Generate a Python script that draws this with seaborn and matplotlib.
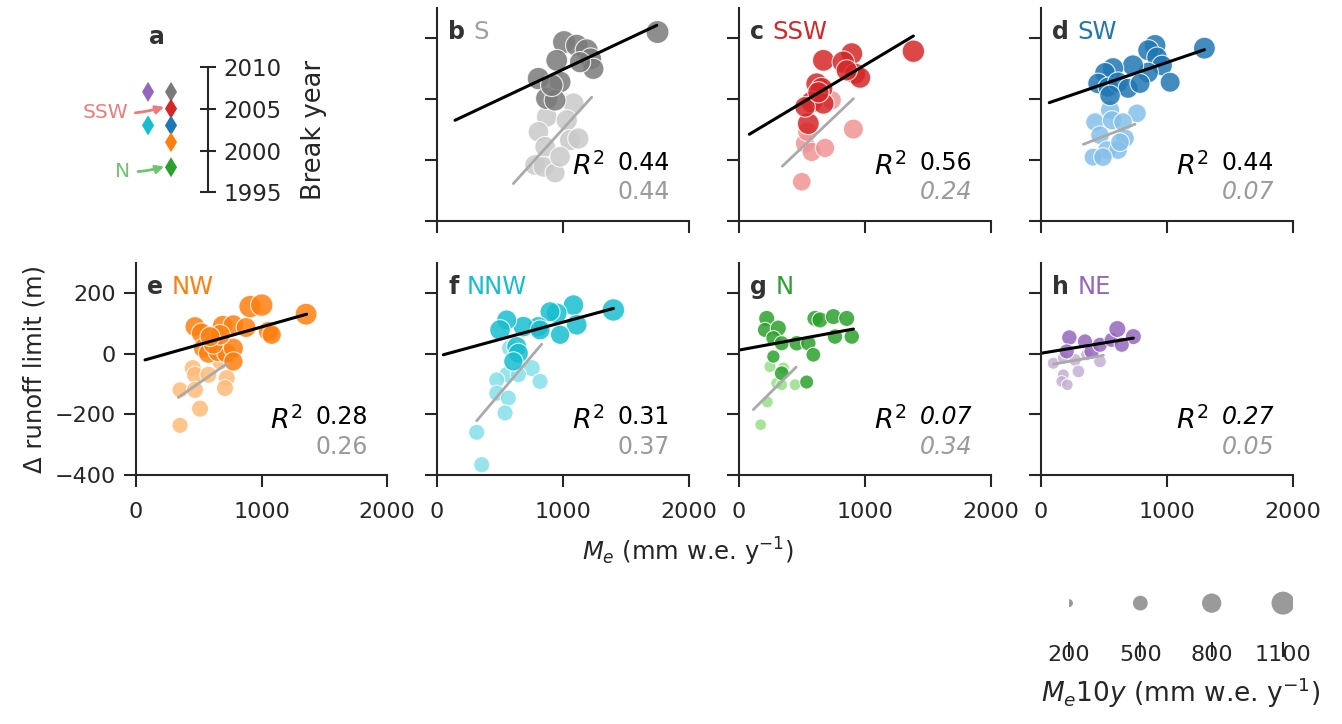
import numpy as np
import pandas as pd
import matplotlib.pyplot as plt
import seaborn as sns

# regiones y año de quiebre (panel a)
regions = ['S', 'SSW', 'SW', 'NW', 'NNW', 'N', 'NE']
letters = ['b', 'c', 'd', 'e', 'f', 'g', 'h']
break_year = [2007, 2005, 2003, 2001, 2003, 1998, 2007]
break_column = [1, 1, 1, 1, 0, 1, 0]

dark_colors = ['#7a7a7a', '#d62728', '#1f77b4', '#ff7f0e', '#17becf', '#2ca02c', '#9467bd']
light_colors = ['#c9c9c9', '#f09494', '#85c0ea', '#ffbb78', '#86e0ea', '#98df8a', '#c5b0d5']
title_colors = ['#a0a0a0', '#d62728', '#1f77b4', '#ff7f0e', '#17becf', '#2ca02c', '#9467bd']

# M_e (x), delta runoff limit (y) y M_e10y (tamaño); oscuro = después del quiebre
S_x_dark = [1750, 1008, 1109, 1188, 1220, 1241, 950, 805, 977, 871, 937, 1135, 911]
S_y_dark = [221, 188, 177, 161, 133, 100, 128, 68, 57, 3, -3, 122, 46]
S_m_dark = [1150, 1100, 1050, 1100, 1000, 950, 1000, 1050, 1000, 1050, 1000, 950, 1050]
S_x_light = [1083, 871, 1030, 805, 1056, 1122, 858, 778, 844, 937, 977]
S_y_light = [-14, -58, -69, -107, -134, -129, -156, -216, -222, -242, -189]
S_m_light = [950, 900, 950, 900, 950, 950, 900, 900, 900, 850, 900]

SSW_x_dark = [1384, 670, 895, 828, 921, 961, 855, 617, 656, 577, 670, 550, 524, 630]
SSW_y_dark = [158, 128, 150, 122, 84, 71, 95, 51, 35, -9, -14, -80, -25, 23]
SSW_m_dark = [1050, 1000, 1000, 1050, 950, 950, 950, 1000, 1050, 1000, 950, 1000, 900, 950]
SSW_x_light = [736, 908, 524, 577, 683, 498, 542]
SSW_y_light = [-3, -98, -145, -173, -160, -271, -107]
SSW_m_light = [800, 850, 800, 800, 800, 750, 800]

SW_x_dark = [1297, 905, 852, 921, 961, 1025, 850, 730, 572, 508, 453, 532, 611, 691, 786, 548]
SW_y_dark = [168, 177, 161, 138, 111, 56, 88, 111, 102, 87, 52, 40, 56, 36, 52, 13]
SW_m_dark = [1000, 1000, 950, 900, 900, 850, 900, 950, 950, 900, 900, 850, 900, 850, 850, 900]
SW_x_light = [548, 762, 429, 564, 651, 468, 667, 524, 611, 413, 492, 627]
SW_y_light = [-36, -46, -75, -69, -75, -118, -128, -167, -167, -190, -190, -141]
SW_m_light = [800, 750, 750, 800, 750, 750, 750, 750, 750, 700, 750, 750]

NW_x_dark = [470, 523, 691, 776, 877, 909, 1002, 1055, 1081, 1355, 537, 577, 656, 723, 776, 776, 616, 670, 590]
NW_y_dark = [90, 68, 93, 95, 87, 156, 161, 74, 63, 131, 19, 2, 8, 2, 19, -25, 32, 63, 57]
NW_m_dark = [850, 900, 900, 900, 850, 1050, 1050, 850, 800, 1000, 850, 850, 900, 850, 850, 800, 850, 900, 850]
NW_x_light = [452, 470, 351, 470, 577, 723, 709, 510, 351, 670]
NW_y_light = [-47, -69, -119, -119, -69, -80, -113, -181, -236, -25]
NW_m_light = [640, 640, 580, 640, 640, 640, 640, 640, 580, 640]

NNW_x_dark = [1400, 1083, 950, 897, 1109, 977, 805, 686, 553, 500, 633, 646, 606, 818]
NNW_y_dark = [145, 161, 134, 139, 96, 63, 90, 90, 112, 79, 24, 2, -25, 79]
NNW_m_dark = [1050, 900, 900, 850, 900, 800, 850, 900, 850, 900, 850, 850, 800, 850]
NNW_x_light = [580, 752, 553, 474, 818, 646, 474, 566, 540, 315, 355]
NNW_y_light = [19, -47, -69, -86, -91, -69, -130, -146, -195, -259, -366]
NNW_m_light = [640, 640, 580, 580, 580, 580, 580, 580, 580, 580, 580]

N_x_dark = [220, 206, 312, 273, 339, 458, 550, 590, 603, 643, 749, 855, 895, 762, 273, 339, 537]
N_y_dark = [117, 79, 85, 52, 35, 35, 35, -3, 117, 112, 123, 117, 57, 57, -9, -64, -93]
N_m_dark = [580, 520, 580, 520, 520, 540, 540, 500, 580, 580, 580, 580, 540, 540, 420, 500, 460]
N_x_light = [246, 352, 299, 339, 445, 225, 172]
N_y_light = [-42, -47, -97, -102, -102, -159, -234]
N_m_light = [360, 360, 350, 350, 350, 350, 340]

NE_x_dark = [225, 349, 204, 402, 468, 561, 606, 733, 641]
NE_y_dark = [54, 41, 8, 8, 30, 46, 82, 57, 30]
NE_m_dark = [540, 520, 520, 540, 520, 520, 640, 580, 520]
NE_x_light = [98, 177, 270, 297, 177, 164, 209, 468, 363]
NE_y_light = [-31, -14, -20, -58, -69, -91, -102, -25, -3]
NE_m_light = [360, 360, 390, 390, 350, 340, 340, 390, 360]

# extremos de las rectas de regresión (x, y)
fit_x_dark = [[143, 1744], [82, 1384], [66, 1297], [72, 1360], [50, 1400], [8, 908], [0, 733]]
fit_y_dark = [[-69, 243], [-115, 208], [-11, 163], [-20, 131], [-3, 150], [13, 82], [2, 52]]
fit_x_light = [[606, 1228], [344, 908], [336, 746], [337, 730], [315, 831], [114, 453], [98, 495]]
fit_y_light = [[-277, 7], [-220, 2], [-148, -82], [-144, -31], [-221, 32], [-184, -44], [-34, -5]]

r2_dark = ['0.44', '0.56', '0.44', '0.28', '0.31', '0.07', '0.27']
r2_light = ['0.44', '0.24', '0.07', '0.26', '0.37', '0.34', '0.05']
r2_dark_italic = [False, False, False, False, False, True, True]
r2_light_italic = [False, True, True, False, False, True, True]

legend_sizes = [200, 500, 800, 1100]

dark_x = [S_x_dark, SSW_x_dark, SW_x_dark, NW_x_dark, NNW_x_dark, N_x_dark, NE_x_dark]
dark_y = [S_y_dark, SSW_y_dark, SW_y_dark, NW_y_dark, NNW_y_dark, N_y_dark, NE_y_dark]
dark_m = [S_m_dark, SSW_m_dark, SW_m_dark, NW_m_dark, NNW_m_dark, N_m_dark, NE_m_dark]
light_x = [S_x_light, SSW_x_light, SW_x_light, NW_x_light, NNW_x_light, N_x_light, NE_x_light]
light_y = [S_y_light, SSW_y_light, SW_y_light, NW_y_light, NNW_y_light, N_y_light, NE_y_light]
light_m = [S_m_light, SSW_m_light, SW_m_light, NW_m_light, NNW_m_light, N_m_light, NE_m_light]

sns.set_theme(style='ticks')
plt.rcParams['font.family'] = ['DejaVu Sans']
plt.rcParams['axes.linewidth'] = 1.5

W, H = 1342, 724


def box(left, top, width, height):
    return [left / W, 1 - (top + height) / H, width / W, height / H]


fig = plt.figure(figsize=(W / 100, H / 100), dpi=100)

panel_boxes = [box(437, 8, 252, 213), box(739, 8, 252, 213), box(1041, 8, 252, 213),
               box(136, 263, 251, 212), box(437, 263, 252, 212), box(739, 263, 252, 212),
               box(1041, 263, 252, 212)]

size_kw = dict(size_norm=(200, 1100), sizes=(33, 274))

for i, region in enumerate(regions):
    ax = fig.add_axes(panel_boxes[i])
    early = pd.DataFrame({'me': light_x[i], 'drl': light_y[i], 'me10y': light_m[i]})
    late = pd.DataFrame({'me': dark_x[i], 'drl': dark_y[i], 'me10y': dark_m[i]})
    sns.scatterplot(data=early, x='me', y='drl', size='me10y', color=light_colors[i],
                    alpha=0.85, edgecolor='white', linewidth=0.8, legend=False, ax=ax, **size_kw)
    sns.scatterplot(data=late, x='me', y='drl', size='me10y', color=dark_colors[i],
                    alpha=0.85, edgecolor='white', linewidth=0.8, legend=False, ax=ax, **size_kw)
    ax.plot(fit_x_light[i], fit_y_light[i], color='#aaaaaa', lw=2)
    ax.plot(fit_x_dark[i], fit_y_dark[i], color='black', lw=2.2)

    ax.set_xlim(0, 2000)
    ax.set_ylim(-400, 300)
    ax.set_xticks([0, 1000, 2000])
    ax.set_yticks([-400, -200, 0, 200])
    ax.tick_params(length=8.5, width=1.5, labelsize=16, pad=6)
    ax.tick_params(axis='x', pad=11)
    ax.set_xlabel('')
    ax.set_ylabel('')
    sns.despine(ax=ax)
    if i < 3:
        ax.tick_params(labelbottom=False, labelleft=False)
    elif i > 3:
        ax.tick_params(labelleft=False)
    else:
        ax.set_ylabel('Δ runoff limit (m)', fontsize=17.5, labelpad=6)

    t = ax.text(0.045, 0.885, letters[i], transform=ax.transAxes, fontsize=17,
                fontweight='bold', color='.2', ha='left', va='center')
    ax.annotate(region, xy=(1, 0.5), xycoords=t, xytext=(6, 0), textcoords='offset points',
                fontsize=17.5, color=title_colors[i], ha='left', va='center')

    ax.text(0.665, 0.255, '$R^2$', transform=ax.transAxes, fontsize=19.5, color='black',
            ha='right', va='center')
    ax.text(0.925, 0.272, r2_dark[i], transform=ax.transAxes, fontsize=17, color='black',
            style='italic' if r2_dark_italic[i] else 'normal', ha='right', va='center')
    ax.text(0.925, 0.134, r2_light[i], transform=ax.transAxes, fontsize=17, color='#9a9a9a',
            style='italic' if r2_light_italic[i] else 'normal', ha='right', va='center')

# panel a: año de quiebre
ax_a = fig.add_axes(box(106, 45, 102, 170))
sns.scatterplot(x=break_column, y=break_year, hue=regions, palette=dark_colors, marker='d',
                s=105, edgecolor='none', legend=False, ax=ax_a)
ax_a.set_xlim(-1.83, 2.61)
ax_a.set_ylim(1992.3, 2012.6)
for side in ['left', 'top', 'bottom']:
    ax_a.spines[side].set_visible(False)
ax_a.spines['right'].set_bounds(1995, 2010)
ax_a.yaxis.tick_right()
ax_a.yaxis.set_label_position('right')
ax_a.set_xticks([])
ax_a.set_yticks([1995, 2000, 2005, 2010])
ax_a.tick_params(axis='y', direction='inout', length=12, width=1.5, labelsize=16.5, pad=5)
ax_a.set_ylabel('Break year', fontsize=18.5, labelpad=14)
ax_a.text(0.5, 1.05, 'a', transform=ax_a.transAxes, fontsize=17, fontweight='bold',
          color='.2', ha='center', va='center')
ax_a.annotate('SSW', xy=(0.7, 2005.2), xytext=(-1.87, 2004.5), ha='center', va='center',
              fontsize=14.5, color='#ec7c7c',
              arrowprops=dict(arrowstyle='-|>', color='#ec7c7c', lw=2, shrinkA=3, shrinkB=0,
                              connectionstyle='arc3,rad=0.1', mutation_scale=12))
ax_a.annotate('N', xy=(0.7, 1998.1), xytext=(-1.09, 1997.5), ha='center', va='center',
              fontsize=14.5, color='#6fc46f',
              arrowprops=dict(arrowstyle='-|>', color='#6fc46f', lw=2, shrinkA=3, shrinkB=0,
                              connectionstyle='arc3,rad=0.1', mutation_scale=12))

# etiqueta común del eje x
fig.text(688 / W, 1 - 552 / H, '$M_e$ (mm w.e. y$^{-1}$)', fontsize=17.5, color='.15',
         ha='center', va='center')

# leyenda de tamaños
ax_s = fig.add_axes(box(1069, 570, 224, 72))
sns.scatterplot(x=legend_sizes, y=[0.54] * len(legend_sizes), size=legend_sizes,
                color='#9a9a9a', edgecolor='none', legend=False, ax=ax_s, **size_kw)
ax_s.set_xlim(200, 1142)
ax_s.set_ylim(0, 1)
for side in ['left', 'top', 'bottom', 'right']:
    ax_s.spines[side].set_visible(False)
ax_s.set_yticks([])
ax_s.set_xticks(legend_sizes)
ax_s.tick_params(axis='x', direction='out', length=10.5, width=1.5, labelsize=16, pad=-8)
ax_s.set_xlabel('$M_e10y$ (mm w.e. y$^{-1}$)', fontsize=19, labelpad=7)

fig.savefig('out.png', dpi=100)
